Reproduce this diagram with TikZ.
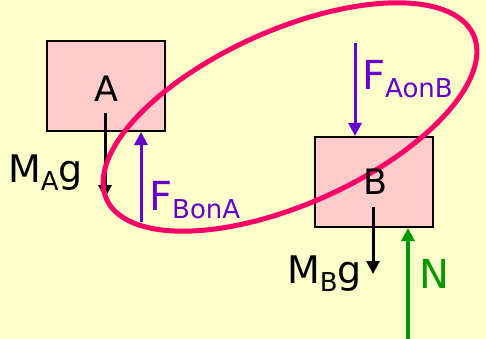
\documentclass[tikz,border=0pt]{standalone}
\usepackage{fontspec}
\setmainfont{DejaVu Sans}
\usetikzlibrary{arrows.meta}
\definecolor{bg}{HTML}{FFFFCC}
\definecolor{boxfill}{HTML}{FFCCCC}
\definecolor{ring}{HTML}{FF0066}
\definecolor{purp}{HTML}{6600CC}
\definecolor{grn}{HTML}{009900}
\newcommand\lowsub[1]{\raisebox{-8pt}{\fontsize{26}{26}\selectfont #1}}
\begin{document}
\begin{tikzpicture}[x=1pt,y=-1pt,
  block/.style={draw=black, line width=2pt, fill=boxfill, minimum width=118pt, minimum height=90pt, inner sep=0pt},
  boxtext/.style={inner sep=0pt, font=\fontsize{35}{35}\selectfont},
  force/.style={line width=3pt, -{Triangle[length=13pt,width=13pt]}},
  lbl/.style={inner sep=0pt, anchor=base west, font=\fontsize{40}{40}\selectfont},
]
\fill[bg] (0,0) rectangle (486,339);
\useasboundingbox (0,0) rectangle (486,339);
% boxes
\node[block] (A) at (106,86) {};
\node[block] (B) at (374,182) {};
% force coordinates
\coordinate (ma0) at (105,113);
\coordinate (ma1) at (105,198);
\coordinate (fb0) at (141,222);
\coordinate (fb1) at (141,132);
\coordinate (fa0) at (355,43);
\coordinate (fa1) at (355,136);
\coordinate (mb0) at (373,207);
\coordinate (mb1) at (373,274);
\coordinate (n0) at (408,339);
\coordinate (n1) at (408,228);
% arrows under the ring
\draw[force, black] (ma0) -- (ma1);
\draw[force, purp] (fb0) -- (fb1);
% ring: centre (290,117), a=201, b=87, tilt 24.1 deg
\draw[ring, line width=5pt] plot[domain=0:360, samples=120, smooth cycle, variable=\t]
  ({290 + 201*cos(24.1)*cos(\t) - 87*sin(24.1)*sin(\t)},
   {117 - 201*sin(24.1)*cos(\t) - 87*cos(24.1)*sin(\t)});
% box letters
\node[boxtext] (labA) at (106,89) {A};
\node[boxtext] (labB) at (375,182) {B};
% other arrows
\draw[force, purp] (fa0) -- (fa1);
\draw[force, black] (mb0) -- (mb1);
\draw[force, grn, line width=3.5pt] (n0) -- (n1);
% labels
\node[lbl, font=\fontsize{38}{38}\selectfont] (tMA) at (8,182) {M\lowsub{A}g};
\node[lbl, text=purp] (tFB) at (149,210) {F\lowsub{BonA}};
\node[lbl, text=purp] (tFA) at (362,90) {F\lowsub{AonB}};
\node[lbl, font=\fontsize{38}{38}\selectfont] (tMB) at (287,283) {M\lowsub{B}g};
\node[lbl, text=grn] (tN) at (419,288) {N};
\end{tikzpicture}
\end{document}
